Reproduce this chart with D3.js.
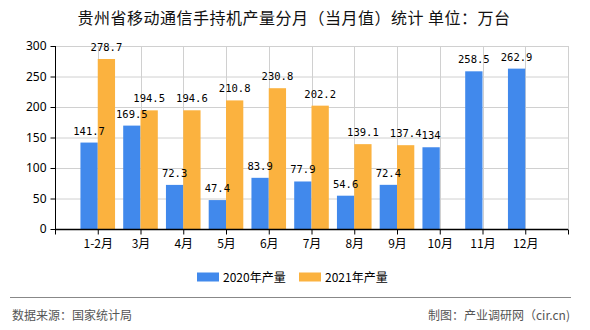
<!DOCTYPE html>
<html><head><meta charset="utf-8">
<script src="https://cdn.jsdelivr.net/npm/d3@7"></script>
<style>body{margin:0;background:#fff}svg{display:block}</style>
</head><body><svg id="c" width="590" height="330"></svg>
<script>
const categories = ["1-2月","3月","4月","5月","6月","7月","8月","9月","10月","11月","12月"];
const values2020 = [141.7,169.5,72.3,47.4,83.9,77.9,54.6,72.4,134,258.5,262.9];
const values2021 = [278.7,194.5,194.6,210.8,230.8,202.2,139.1,137.4,null,null,null];
const yTicks = [0,50,100,150,200,250,300];
const seriesNames = ["2020年产量","2021年产量"];
const colors = ["#4189EC","#FBB23F"];
const title = "贵州省移动通信手持机产量分月（当月值）统计 单位：万台";

const svg = d3.select("#c");
const L = 55, R = 568, T = 46, B = 229;
const x = d3.scalePoint().domain(["_s", ...categories, "_e"]).range([L, R]);
const y = d3.scaleLinear().domain([0,300]).range([B, T]);
const barW = 17.3;

svg.append("text").attr("x", 294).attr("y", 24).attr("text-anchor","middle")
  .attr("font-family","'Noto Sans CJK SC',sans-serif").attr("font-size",16)
  .attr("letter-spacing","0.5").attr("fill","#111").text(title);

// grid
svg.append("g").selectAll("line").data(yTicks.filter(d=>d>0)).join("line")
  .attr("x1",L).attr("x2",R).attr("y1",d=>y(d)+0.5).attr("y2",d=>y(d)+0.5)
  .attr("stroke","#d0d0d0");
svg.append("g").selectAll("line").data(x.domain().slice(1)).join("line")
  .attr("x1",d=>Math.round(x(d))+0.5).attr("x2",d=>Math.round(x(d))+0.5).attr("y1",T).attr("y2",B)
  .attr("stroke","#d0d0d0");

// bars
const gb = svg.append("g");
gb.selectAll("rect.a").data(categories.map((c,i)=>({c,v:values2020[i]}))).join("rect")
  .attr("x",d=>x(d.c)-barW).attr("width",barW).attr("y",d=>y(d.v)).attr("height",d=>B-y(d.v))
  .attr("fill",colors[0]);
gb.selectAll("rect.b").data(categories.map((c,i)=>({c,v:values2021[i]})).filter(d=>d.v!=null)).join("rect")
  .attr("x",d=>x(d.c)).attr("width",barW).attr("y",d=>y(d.v)).attr("height",d=>B-y(d.v))
  .attr("fill",colors[1]);

// labels
const lab = svg.append("g").attr("font-family","'DejaVu Sans Mono',monospace").attr("font-size",10.5)
  .attr("text-anchor","middle").attr("fill","#000");
categories.forEach((c,i)=>{
  lab.append("text").attr("x",x(c)-barW/2).attr("y",y(values2020[i])-8).text(values2020[i]);
  if(values2021[i]!=null) lab.append("text").attr("x",x(c)+barW/2).attr("y",y(values2021[i])-8).text(values2021[i]);
});

// axes
const ya = svg.append("g").attr("transform",`translate(${L+0.5},0)`)
  .call(d3.axisLeft(y).tickValues(yTicks).tickSize(5).tickPadding(4));
ya.select(".domain").attr("d",`M0,${T}V${B}`).attr("stroke","#000");
ya.selectAll("text").attr("font-family","'Noto Sans',sans-serif").attr("font-size",12).attr("fill","#000");
ya.selectAll(".tick line").attr("stroke","#000");
const xa = svg.append("g").attr("transform",`translate(0,${B+0.5})`)
  .call(d3.axisBottom(x).tickSize(5).tickPadding(5).tickFormat(d=>d.startsWith("_")?"":d));
xa.select(".domain").attr("d",`M${L},0H${R}`).attr("stroke","#000").attr("stroke-width",1.5);
xa.selectAll(".tick line").attr("stroke","#000");
xa.selectAll("text").attr("font-family","'Noto Sans CJK SC',sans-serif").attr("font-size",12).attr("fill","#000");

// legend
const lg = svg.append("g").attr("font-family","'Noto Sans CJK SC',sans-serif").attr("font-size",12);
const lx = [197, 299];
seriesNames.forEach((n,i)=>{
  lg.append("rect").attr("x",lx[i]).attr("y",272.5).attr("width",22).attr("height",9).attr("fill",colors[i]);
  lg.append("text").attr("x",lx[i]+26).attr("y",281.5).attr("fill","#000").text(n);
});

// footer
svg.append("line").attr("x1",10).attr("x2",571).attr("y1",297.5).attr("y2",297.5).attr("stroke","#888");
svg.append("text").attr("x",12).attr("y",320).attr("font-family","'Noto Sans CJK SC',sans-serif")
  .attr("font-size",12).attr("fill","#555").text("数据来源：国家统计局");
svg.append("text").attr("x",570).attr("y",320).attr("text-anchor","end").attr("font-family","'Noto Sans CJK SC',sans-serif")
  .attr("font-size",12).attr("fill","#555").text("制图：产业调研网（cir.cn)");
</script></body></html>
